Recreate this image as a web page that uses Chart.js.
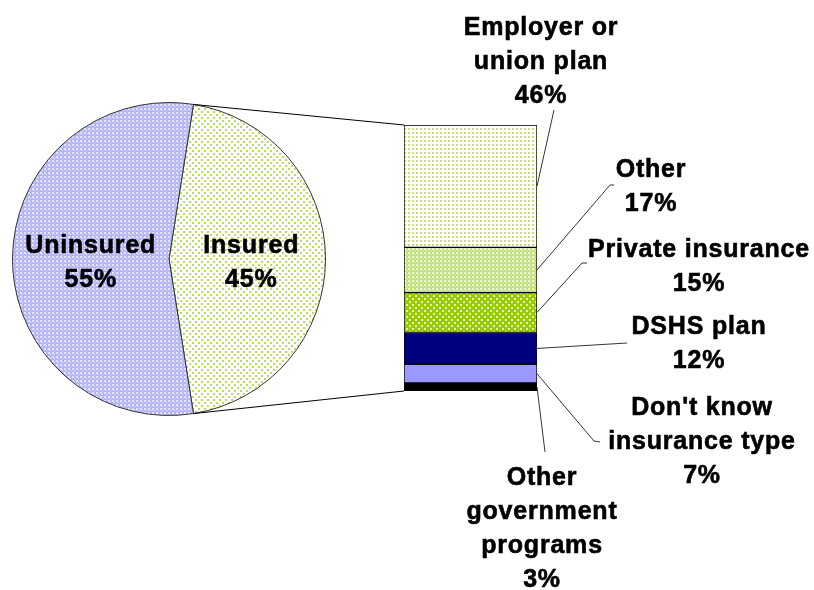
<!DOCTYPE html>
<html>
<head>
<meta charset="utf-8">
<script src="https://cdn.jsdelivr.net/npm/chart.js@4/dist/chart.umd.min.js"></script>
<style>
  html, body { margin: 0; padding: 0; background: #fff; }
  #wrap { position: relative; width: 814px; height: 590px; }
  #wrap canvas { position: absolute; left: 0; top: 0; }
</style>
</head>
<body>
<div id="wrap">
  <canvas id="pie" width="814" height="590"></canvas>
  <canvas id="plans" width="814" height="590"></canvas>
</div>
<script>
// coverage split
const coverageLabels = ["Insured", "Uninsured"];
const coverageValues = [45, 55];

// breakdown of the insured group, top to bottom
const planLabels = [
  ["Employer or", "union plan"],
  ["Other"],
  ["Private insurance"],
  ["DSHS plan"],
  ["Don't know", "insurance type"],
  ["Other", "government", "programs"],
];
const planValues = [46, 17, 15, 12, 7, 3];

const FONT = 'bold 25px "Liberation Sans", Arial, sans-serif';
const LINE_H = 34;

// small tiled fills
const dotPattern = (w, h, bg, fg, dots) => {
  const c = document.createElement("canvas");
  c.width = w;
  c.height = h;
  const g = c.getContext("2d");
  g.fillStyle = bg;
  g.fillRect(0, 0, w, h);
  g.fillStyle = fg;
  dots.forEach(([x, y, s]) => g.fillRect(x, y, s, s));
  return g.createPattern(c, "repeat");
};

const fills = {
  uninsured: dotPattern(4, 4, "#b4b4fc", "#e4e4ff", [[0, 0, 2], [2, 2, 1]]),
  insured: dotPattern(6, 6, "#ffffff", "#b8dc60", [[0, 0, 2], [3, 3, 2]]),
  employer: dotPattern(4, 4, "#ffffff", "#c4e278", [[0, 0, 2]]),
  other: dotPattern(4, 4, "#c2e27c", "#eef8d8", [[0, 0, 2], [2, 2, 1]]),
  priv: dotPattern(6, 6, "#99cc00", "#e2f2b4", [[1, 1, 2], [4, 4, 2]]),
};
const planColors = [fills.employer, fills.other, fills.priv, "#000080", "#9999ff", "#000000"];

const drawLines = (ctx, lines, cx, y) => {
  ctx.save();
  ctx.font = FONT;
  ctx.letterSpacing = "0.8px";
  ctx.fillStyle = "#000";
  ctx.strokeStyle = "#000";
  ctx.lineWidth = 0.6;
  ctx.textAlign = "center";
  ctx.textBaseline = "middle";
  lines.forEach((t, i) => {
    ctx.fillText(t, cx, y + i * LINE_H);
    ctx.strokeText(t, cx, y + i * LINE_H);
  });
  ctx.restore();
};

// text inside the pie slices
const pieText = {
  id: "pieText",
  afterDatasetsDraw(chart) {
    const ctx = chart.ctx;
    chart.getDatasetMeta(0).data.forEach((arc, i) => {
      const p = arc.tooltipPosition();
      const lines = [coverageLabels[i], coverageValues[i] + "%"];
      drawLines(ctx, lines, p.x + (i === 0 ? 4 : 0), p.y + 4 - LINE_H / 2);
    });
  },
};

const pieChart = new Chart(document.getElementById("pie"), {
  type: "pie",
  data: {
    labels: coverageLabels,
    datasets: [{
      data: coverageValues,
      backgroundColor: [fills.insured, fills.uninsured],
      borderColor: "#333",
      borderWidth: 1,
    }],
  },
  options: {
    responsive: false,
    animation: false,
    rotation: 9,
    layout: { padding: { left: 12, right: 488, top: 102, bottom: 174 } },
    plugins: { legend: { display: false }, tooltip: { enabled: false } },
  },
  plugins: [pieText],
});

// where each callout's text sits and how its leader bends
const callouts = [
  { x: 541, y: 28, path: [[554, 110]] },
  { x: 651, y: 170, path: [[610, 185], [614, 185]] },
  { x: 699, y: 250, path: [[582, 263], [587, 263]] },
  { x: 699, y: 327, path: [[627, 343]] },
  { x: 702, y: 408, path: [[594, 441], [600, 442]] },
  { x: 542, y: 478, path: [[545, 452]] },
];

const planText = {
  id: "planText",
  afterDatasetsDraw(chart) {
    const ctx = chart.ctx;
    const yScale = chart.scales.y;

    // lines joining the insured slice to the stacked bar
    const arc = pieChart.getDatasetMeta(0).data[0];
    const first = chart.getDatasetMeta(0).data[0];
    const left = first.x - first.width / 2;
    ctx.save();
    ctx.strokeStyle = "#000";
    ctx.lineWidth = 1;
    ctx.beginPath();
    ctx.moveTo(arc.x + arc.outerRadius * Math.cos(arc.startAngle), arc.y + arc.outerRadius * Math.sin(arc.startAngle));
    ctx.lineTo(left, yScale.getPixelForValue(0));
    ctx.moveTo(arc.x + arc.outerRadius * Math.cos(arc.endAngle), arc.y + arc.outerRadius * Math.sin(arc.endAngle));
    ctx.lineTo(left, yScale.getPixelForValue(100));
    ctx.stroke();

    // callout leaders
    ctx.lineWidth = 0.8;
    chart.data.datasets.forEach((ds, i) => {
      const bar = chart.getDatasetMeta(i).data[0];
      const right = bar.x + bar.width / 2;
      const midY = (bar.y + bar.base) / 2;
      ctx.beginPath();
      ctx.moveTo(right, midY);
      callouts[i].path.forEach(([px, py]) => ctx.lineTo(px, py));
      ctx.stroke();
    });
    ctx.restore();

    planLabels.forEach((lines, i) => {
      drawLines(ctx, [...lines, planValues[i] + "%"], callouts[i].x, callouts[i].y);
    });
  },
};

new Chart(document.getElementById("plans"), {
  type: "bar",
  data: {
    labels: ["Insured"],
    datasets: planValues.map((v, i) => ({
      label: planLabels[i].join(" "),
      data: [v],
      backgroundColor: planColors[i],
      borderColor: "#000",
      borderWidth: 1,
      borderSkipped: false,
      barPercentage: 1,
      categoryPercentage: 1,
    })),
  },
  options: {
    responsive: false,
    animation: false,
    layout: { padding: { left: 404, right: 277, top: 125, bottom: 199 } },
    scales: {
      x: { stacked: true, display: false },
      y: { stacked: true, display: false, min: 0, max: 100, reverse: true },
    },
    plugins: { legend: { display: false }, tooltip: { enabled: false } },
  },
  plugins: [planText],
});
</script>
</body>
</html>
